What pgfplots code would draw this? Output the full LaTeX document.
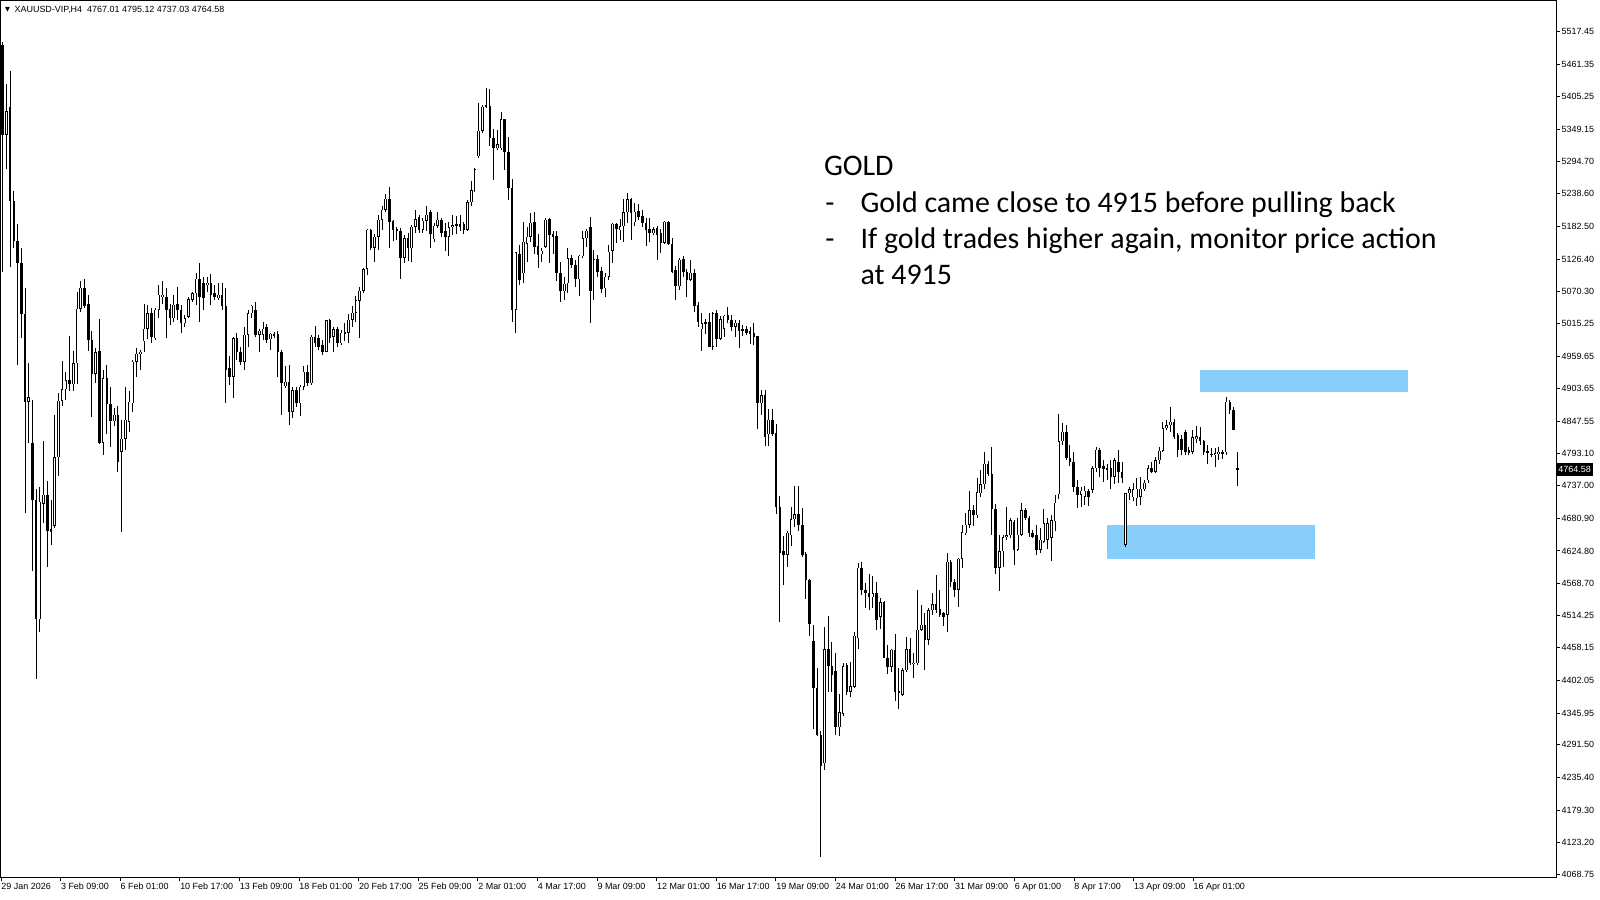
\documentclass[border=0pt]{standalone}
\usepackage{fontspec}
\setmainfont{Carlito}
\newfontfamily\uifont{Liberation Sans}
\newfontfamily\symfont{DejaVu Sans}
\usepackage{pgfplots}
\usepackage{pgfplotstable}
\pgfplotsset{compat=1.18}
\definecolor{zoneblue}{RGB}{135,206,250}

\pgfplotstableread{
i o h l c
0 5495 5500 5105 5340
1 5340 5428 5281 5381
2 5388 5450 5113 5226
3 5226 5243 5146 5157
4 5157 5186 4944 5120
5 5120 5146 4991 5032
6 5032 5076 4690 4881
7 4881 4947 4811 4889
8 4811 4885 4591 4712
9 4712 4731 4404 4507
10 4507 4734 4486 4709
11 4706 4814 4672 4721
12 4721 4745 4598 4659
13 4662 4712 4635 4657
14 4668 4859 4664 4786
15 4786 4896 4753 4883
16 4883 4951 4874 4903
17 4903 4933 4885 4918
18 4918 4995 4900 4911
19 4911 4969 4900 4947
20 4947 5069 4911 5041
21 5041 5088 5035 5077
22 5077 5092 5043 5046
23 5050 5065 4969 4988
24 4988 5002 4855 4929
25 4929 4973 4914 4966
26 4969 5024 4808 4811
27 4811 4936 4789 4922
28 4922 4944 4826 4878
29 4878 4907 4804 4848
30 4848 4870 4840 4859
31 4859 4874 4760 4778
32 4795 4850 4658 4818
33 4818 4907 4798 4850
34 4847 4899 4830 4881
35 4879 4953 4864 4950
36 4950 4973 4924 4964
37 4964 4970 4936 4967
38 4985 5050 4967 5007
39 5007 5048 4990 5033
40 5033 5042 4982 4992
41 4990 5042 4987 5039
42 5039 5082 5025 5065
43 5062 5088 5050 5065
44 5062 5076 4990 5039
45 5040 5050 5013 5025
46 5025 5065 5019 5048
47 5050 5079 5022 5039
48 5039 5048 4999 5016
49 5016 5030 5010 5025
50 5027 5062 5025 5057
51 5057 5070 5053 5068
52 5068 5102 5048 5093
53 5093 5119 5019 5062
54 5085 5096 5039 5059
55 5082 5096 5070 5086
56 5085 5101 5048 5065
57 5068 5082 5056 5062
58 5059 5085 5056 5065
59 5065 5085 5039 5045
60 5045 5076 4879 4936
61 4939 4959 4910 4924
62 4924 4993 4887 4990
63 4990 4999 4953 4967
64 4967 4976 4944 4950
65 4950 5010 4936 4996
66 4996 5039 4976 5033
67 5033 5048 5025 5046
68 5039 5053 4993 4996
69 4996 5007 4966 5003
70 4996 5019 4987 5007
71 5009 5015 4982 4987
72 4989 5000 4970 4998
73 4998 5001 4990 4995
74 4998 5002 4924 4967
75 4967 4970 4858 4913
76 4908 4942 4904 4916
77 4916 4944 4841 4864
78 4864 4907 4853 4901
79 4901 4907 4872 4879
80 4879 4910 4856 4907
81 4907 4942 4901 4933
82 4933 4944 4908 4913
83 4913 4996 4910 4993
84 4993 5011 4976 4982
85 4990 4996 4970 4976
86 4979 4987 4962 4967
87 4967 5022 4966 5021
88 5021 5023 4982 4990
89 4993 5010 4966 5006
90 5006 5010 4976 4982
91 4982 5005 4979 5000
92 4999 5017 4985 5001
93 5000 5032 4982 5022
94 5022 5045 5010 5034
95 5034 5063 5019 5056
96 5055 5079 4990 5072
97 5072 5111 5069 5109
98 5110 5178 5099 5177
99 5177 5178 5142 5146
100 5146 5169 5122 5165
101 5165 5202 5142 5194
102 5194 5217 5177 5211
103 5211 5239 5207 5230
104 5230 5251 5145 5191
105 5192 5194 5158 5177
106 5178 5182 5159 5174
107 5174 5179 5093 5129
108 5129 5168 5119 5162
109 5162 5171 5123 5145
110 5145 5185 5122 5182
111 5182 5211 5171 5195
112 5198 5202 5171 5177
113 5177 5197 5171 5192
114 5192 5218 5174 5203
115 5208 5211 5146 5169
116 5161 5188 5156 5184
117 5184 5208 5179 5194
118 5194 5197 5165 5171
119 5174 5188 5141 5165
120 5165 5191 5131 5181
121 5181 5202 5168 5185
122 5186 5201 5169 5184
123 5186 5202 5174 5182
124 5186 5191 5169 5177
125 5177 5228 5174 5224
126 5224 5260 5217 5245
127 5245 5283 5242 5281
128 5303 5394 5300 5347
129 5347 5391 5343 5388
130 5389 5420 5386 5391
131 5390 5418 5320 5334
132 5334 5350 5262 5317
133 5317 5348 5314 5324
134 5317 5380 5314 5367
135 5367 5368 5280 5311
136 5311 5337 5228 5248
137 5248 5265 5019 5039
138 5039 5139 4999 5138
139 5136 5151 5082 5091
140 5102 5191 5085 5156
141 5153 5182 5122 5165
142 5165 5205 5156 5189
143 5191 5208 5136 5148
144 5149 5170 5111 5134
145 5135 5145 5122 5141
146 5148 5197 5145 5194
147 5195 5197 5120 5168
148 5169 5174 5136 5165
149 5166 5174 5088 5102
150 5102 5122 5052 5071
151 5071 5096 5056 5084
152 5085 5145 5068 5128
153 5128 5134 5111 5116
154 5116 5125 5078 5092
155 5092 5134 5063 5132
156 5131 5174 5128 5162
157 5162 5178 5148 5175
158 5182 5199 5016 5071
159 5071 5142 5056 5126
160 5126 5134 5096 5105
161 5106 5113 5068 5075
162 5076 5102 5062 5096
163 5096 5151 5091 5139
164 5141 5189 5119 5187
165 5187 5189 5154 5178
166 5176 5195 5159 5183
167 5183 5229 5156 5207
168 5207 5240 5188 5229
169 5229 5231 5160 5206
170 5190 5223 5183 5208
171 5209 5221 5194 5199
172 5200 5211 5182 5188
173 5189 5197 5149 5176
174 5179 5197 5156 5171
175 5171 5182 5168 5178
176 5179 5183 5125 5168
177 5171 5178 5137 5154
178 5155 5192 5152 5191
179 5191 5192 5151 5152
180 5153 5162 5103 5105
181 5107 5115 5056 5080
182 5080 5128 5074 5125
183 5126 5131 5096 5105
184 5105 5109 5062 5091
185 5091 5125 5088 5103
186 5103 5109 5036 5046
187 5048 5052 5010 5019
188 5006 5033 4969 5016
189 5019 5023 4998 5016
190 5019 5034 4976 4976
191 4976 5036 4970 5033
192 5034 5039 4976 4990
193 4990 5028 4987 5023
194 5007 5030 4993 5029
195 5030 5045 5016 5021
196 5022 5030 5003 5010
197 5010 5022 4992 5017
198 5017 5021 4973 5002
199 5006 5013 4994 5002
200 5006 5011 4996 5000
201 5002 5010 4981 4998
202 5000 5017 4979 4992
203 4994 4994 4835 4879
204 4879 4901 4858 4892
205 4892 4901 4806 4820
206 4825 4868 4806 4850
207 4850 4868 4822 4826
208 4828 4843 4688 4701
209 4701 4720 4502 4621
210 4624 4650 4567 4618
211 4618 4659 4597 4656
212 4652 4701 4634 4679
213 4679 4736 4666 4688
214 4688 4736 4659 4669
215 4669 4698 4615 4618
216 4620 4623 4542 4574
217 4574 4577 4478 4500
218 4470 4497 4319 4389
219 4389 4424 4306 4309
220 4309 4316 4099 4255
221 4260 4494 4249 4456
222 4456 4513 4383 4427
223 4427 4468 4383 4411
224 4418 4449 4309 4322
225 4322 4379 4306 4348
226 4345 4433 4341 4427
227 4429 4433 4377 4383
228 4383 4434 4374 4392
229 4391 4486 4389 4479
230 4475 4604 4457 4596
231 4596 4606 4549 4558
232 4558 4569 4527 4552
233 4552 4586 4523 4546
234 4545 4581 4526 4552
235 4552 4572 4489 4506
236 4512 4544 4491 4537
237 4537 4539 4440 4440
238 4441 4463 4414 4426
239 4426 4457 4417 4455
240 4455 4482 4367 4383
241 4384 4423 4353 4382
242 4378 4423 4376 4420
243 4420 4477 4417 4456
244 4456 4475 4428 4432
245 4430 4449 4406 4433
246 4432 4558 4429 4489
247 4489 4532 4487 4498
248 4498 4518 4420 4472
249 4472 4526 4463 4523
250 4523 4552 4514 4533
251 4533 4583 4518 4523
252 4525 4558 4512 4515
253 4518 4519 4495 4512
254 4515 4621 4485 4606
255 4606 4609 4563 4572
256 4572 4577 4545 4558
257 4558 4613 4529 4611
258 4611 4669 4596 4657
259 4655 4690 4652 4670
260 4670 4727 4664 4695
261 4695 4704 4667 4686
262 4686 4751 4682 4726
263 4724 4764 4718 4739
264 4739 4794 4731 4775
265 4775 4779 4753 4757
266 4757 4804 4653 4697
267 4697 4705 4586 4596
268 4596 4652 4556 4624
269 4624 4652 4598 4648
270 4648 4701 4644 4652
271 4652 4682 4647 4678
272 4675 4678 4601 4627
273 4627 4681 4624 4653
274 4653 4708 4650 4695
275 4695 4699 4678 4681
276 4681 4684 4648 4655
277 4655 4661 4647 4648
278 4653 4669 4618 4627
279 4627 4664 4621 4644
280 4641 4697 4638 4672
281 4644 4682 4628 4672
282 4647 4687 4608 4678
283 4676 4721 4659 4708
284 4722 4860 4714 4813
285 4813 4844 4807 4830
286 4830 4841 4781 4785
287 4785 4807 4770 4778
288 4778 4794 4726 4734
289 4734 4747 4699 4721
290 4721 4735 4701 4728
291 4718 4736 4704 4728
292 4727 4732 4702 4718
293 4730 4770 4725 4767
294 4767 4803 4761 4799
295 4799 4801 4752 4767
296 4770 4781 4744 4765
297 4767 4775 4747 4764
298 4767 4781 4732 4752
299 4752 4784 4740 4781
300 4778 4798 4742 4761
301 4761 4777 4742 4750
302 4635 4725 4632 4724
303 4724 4735 4712 4731
304 4717 4741 4710 4731
305 4715 4750 4702 4732
306 4718 4752 4704 4732
307 4731 4746 4728 4742
308 4746 4773 4741 4767
309 4767 4778 4758 4761
310 4761 4787 4758 4781
311 4781 4803 4775 4797
312 4797 4847 4794 4836
313 4836 4849 4833 4841
314 4841 4873 4830 4847
315 4847 4851 4817 4821
316 4824 4828 4787 4798
317 4818 4824 4790 4798
318 4830 4833 4790 4795
319 4798 4804 4790 4793
320 4795 4833 4791 4820
321 4817 4840 4810 4822
322 4821 4838 4807 4813
323 4813 4816 4790 4795
324 4797 4807 4775 4794
325 4792 4801 4787 4790
326 4790 4801 4769 4793
327 4792 4803 4781 4795
328 4795 4799 4782 4792
329 4794 4890 4790 4881
330 4881 4885 4861 4867
331 4867 4873 4832 4833
332 4767.01 4795.12 4737.03 4764.58
}\candles

\begin{document}
\begin{tikzpicture}[x=1bp,y=1bp]
\useasboundingbox (0bp,0bp) rectangle (800bp,450bp);
\begin{axis}[
  at={(0bp,449.75bp)}, anchor=north west, scale only axis,
  width=778bp, height=438.5bp,
  xmin=-0.726, xmax=417.7, ymin=4063.5, ymax=5570.9,
  clip=false,
  axis line style={line width=0.5bp, black},
  tick align=outside, major tick length=2bp,
  tick style={line width=0.5bp, black},
  ytick pos=right, yticklabel pos=right,
  xtick pos=left,
  ytick={5517.45,5461.35,5405.25,5349.15,5294.70,5238.60,5182.50,5126.40,5070.30,5015.25,4959.65,4903.65,4847.55,4793.10,4737.00,4680.90,4624.80,4568.70,4514.25,4458.15,4402.05,4345.95,4291.50,4235.40,4179.30,4123.20,4068.75},
  yticklabels={5517.45,5461.35,5405.25,5349.15,5294.70,5238.60,5182.50,5126.40,5070.30,5015.25,4959.65,4903.65,4847.55,4793.10,4737.00,4680.90,4624.80,4568.70,4514.25,4458.15,4402.05,4345.95,4291.50,4235.40,4179.30,4123.20,4068.75},
  xtick={-0.45,15.58,31.61,47.64,63.67,79.70,95.73,111.76,127.79,143.82,159.85,175.88,191.91,207.94,223.97,240.00,256.03,272.06,288.09,304.12,320.15},
  xticklabels={29 Jan 2026,3 Feb 09:00,6 Feb 01:00,10 Feb 17:00,13 Feb 09:00,18 Feb 01:00,20 Feb 17:00,25 Feb 09:00,2 Mar 01:00,4 Mar 17:00,9 Mar 09:00,12 Mar 01:00,16 Mar 17:00,19 Mar 09:00,24 Mar 01:00,26 Mar 17:00,31 Mar 09:00,6 Apr 01:00,8 Apr 17:00,13 Apr 09:00,16 Apr 01:00},
  tick label style={font=\uifont\fontsize{4.5}{5}\selectfont, text=black},
  xticklabel style={anchor=north west, inner xsep=0pt, inner ysep=0.8bp},
  yticklabel style={anchor=west, inner xsep=0.6bp},
]
% support / resistance zones
\addplot[draw=none, fill=zoneblue, forget plot] coordinates {(321.97,4898.3) (377.96,4898.3) (377.96,4935.5) (321.97,4935.5)} -- cycle;
\addplot[draw=none, fill=zoneblue, forget plot] coordinates {(296.9,4610.4) (353.0,4610.4) (353.0,4669.4) (296.9,4669.4)} -- cycle;
% wicks
\addplot[draw=none, mark=none, forget plot,
  error bars/.cd, y dir=both, y explicit, error mark=none,
  error bar style={draw=black, solid, line width=0.5bp}]
  table[x=i, y expr={(\thisrow{h}+\thisrow{l})/2}, y error expr={(\thisrow{h}-\thisrow{l})/2}] {\candles};
% bodies (outline / filled)
\addplot[draw=none, mark=none, forget plot,
  error bars/.cd, y dir=both, y explicit, error mark=none,
  error bar style={draw=black, solid, line width=1.3bp}]
  table[x=i, y expr={(\thisrow{o}+\thisrow{c})/2}, y error expr={max(abs(\thisrow{o}-\thisrow{c})/2,0.7)}] {\candles};
% hollow interior of bullish bodies
\addplot[draw=none, mark=none, forget plot,
  restrict expr to domain={\thisrow{c}-\thisrow{o}}{2.5:100000},
  error bars/.cd, y dir=both, y explicit, error mark=none,
  error bar style={draw=white, solid, line width=0.45bp}]
  table[x=i, y expr={(\thisrow{o}+\thisrow{c})/2}, y error expr={abs(\thisrow{o}-\thisrow{c})/2-0.9}] {\candles};
% current price box
\node[fill=black, text=white, anchor=west, inner xsep=1bp, inner ysep=0pt, minimum height=6.2bp,
  font=\uifont\fontsize{4.5}{5}\selectfont] at (axis cs:417.7,4764.58) {4764.58};
\end{axis}
% header
\node[anchor=base west, inner sep=0pt, font=\symfont\fontsize{3.2}{4}\selectfont] at (2.4bp,444.2bp) {▼};
\node[anchor=base west, inner sep=0pt, font=\uifont\fontsize{4.5}{5}\selectfont] at (7.1bp,443.8bp) {XAUUSD-VIP,H4\ \ 4767.01 4795.12 4737.03 4764.58};
% annotation
\node[anchor=base west, inner sep=0pt, font=\fontsize{15}{18}\selectfont] at (411.8bp,362.25bp) {GOLD};
\node[anchor=base west, inner sep=0pt, font=\fontsize{15}{18}\selectfont] at (412.5bp,343.9bp) {-};
\node[anchor=base west, inner sep=0pt, font=\fontsize{15}{18}\selectfont] at (430.1bp,343.9bp) {Gold came close to 4915 before pulling back};
\node[anchor=base west, inner sep=0pt, font=\fontsize{15}{18}\selectfont] at (412.5bp,325.5bp) {-};
\node[anchor=base west, inner sep=0pt, font=\fontsize{15}{18}\selectfont] at (430.1bp,325.5bp) {If gold trades higher again, monitor price action};
\node[anchor=base west, inner sep=0pt, font=\fontsize{15}{18}\selectfont] at (430.1bp,307.65bp) {at 4915};
\end{tikzpicture}
\end{document}
